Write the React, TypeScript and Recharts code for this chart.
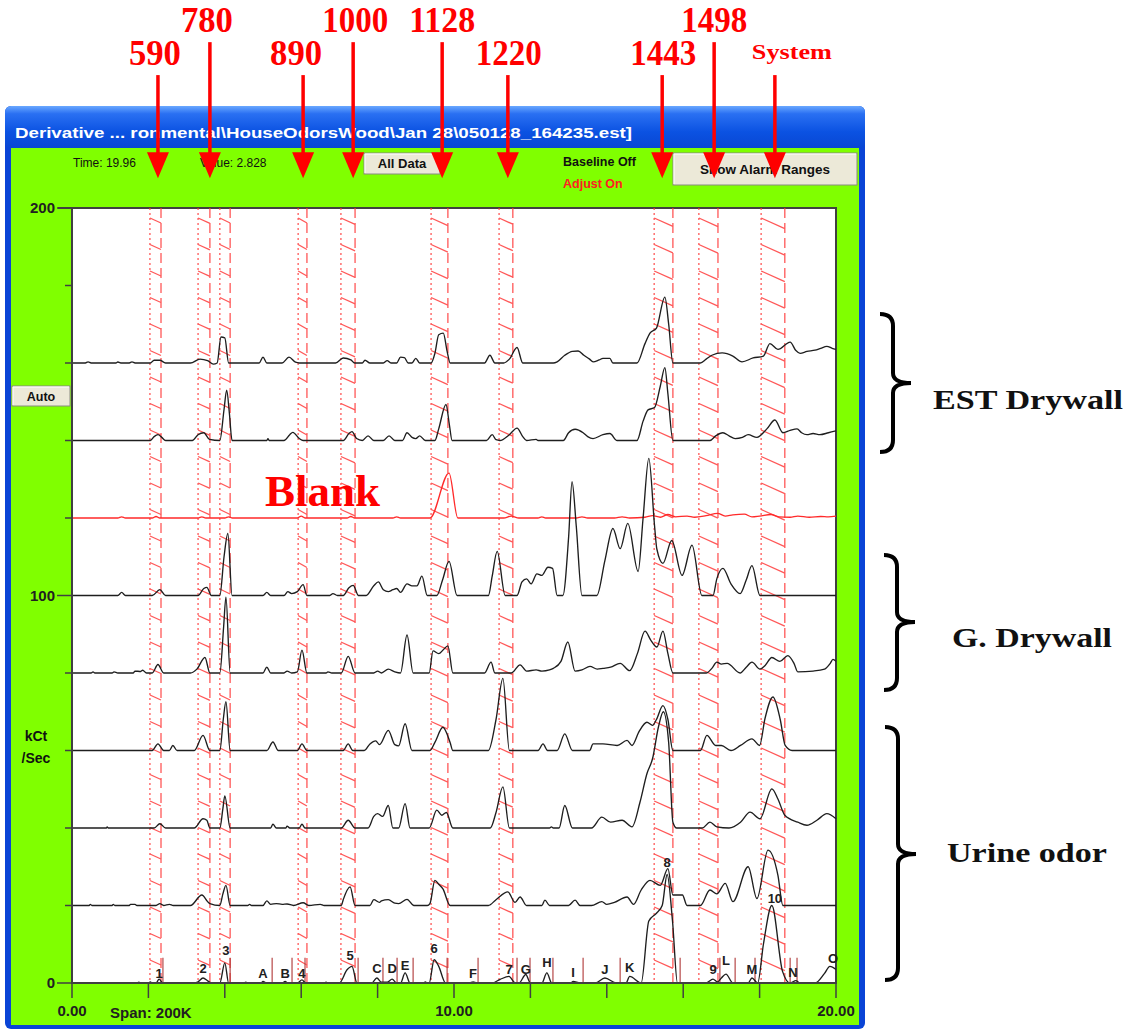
import React from 'react';
import { ComposedChart, Line, XAxis, YAxis, ReferenceArea, ReferenceLine, Scatter } from 'recharts';

const SANS = '"Liberation Sans", Arial, sans-serif';
const SERIF = '"Liberation Serif", "Times New Roman", serif';

// ---------- data ----------
const traceNames = ['EST Drywall A', 'EST Drywall B', 'Blank', 'G. Drywall A', 'G. Drywall B', 'Urine A', 'Urine B', 'Urine C', 'Urine D'];
const baselines = [160, 140, 120, 100, 80, 60, 40, 20, 0];

const estA: number[][] = [[0,0],[0.35,0],[0.42,0.3],[0.5,0],[1.15,0],[1.2,0.25],[1.3,0],[1.5,0],[1.57,0.3],[1.65,0],[2.05,0],[2.15,0.7],[2.3,0.7],[2.45,0],[3.1,0],[3.35,1.0],[3.55,0.6],[3.7,-0.3],[3.8,0],[3.9,6.7],[4.0,6.5],[4.1,0],[4.9,0],[5.0,1.5],[5.1,0],[5.5,0],[5.68,1.5],[5.85,0.2],[5.95,0],[6.9,0],[7.1,1.3],[7.3,0.8],[7.4,0],[7.6,0],[7.67,0.7],[7.8,0],[8.15,0],[8.25,0.6],[8.35,0],[8.5,0],[8.6,1.5],[8.7,1.4],[8.8,0],[8.9,0],[9.0,1.2],[9.1,0],[9.4,0],[9.5,2.5],[9.6,7.3],[9.72,7.7],[9.82,3],[9.9,0],[10.8,0],[10.94,2],[11.07,0],[11.3,0],[11.45,1],[11.65,4],[11.8,0],[12.6,0],[12.7,0.3],[12.9,2],[13.1,3],[13.25,3.1],[13.4,2],[13.55,1],[13.64,0.3],[13.8,0.8],[13.9,1.2],[14.08,1.2],[14.16,0],[14.79,0],[15.0,5],[15.13,7.7],[15.3,9],[15.52,17],[15.62,10],[15.73,0],[16.45,0],[16.6,1],[16.75,2],[17.02,2.6],[17.3,1.8],[17.54,0.3],[17.83,1.3],[18.1,1.8],[18.27,5],[18.48,3.5],[18.8,5.4],[18.95,3.2],[19.06,2.5],[19.24,3],[19.45,3.3],[19.6,3.8],[19.76,4.3],[19.9,3.8],[20,3.5]];
const estB: number[][] = [[0,0],[2.05,0],[2.15,1],[2.25,1.5],[2.35,0.8],[2.45,0],[3.15,0],[3.3,1.5],[3.45,2],[3.6,0.3],[3.87,0],[3.98,8],[4.05,13],[4.12,7],[4.19,0],[5.1,0],[5.13,0.5],[5.16,0],[5.55,0],[5.7,1.5],[5.78,2.1],[5.95,0.5],[6.05,0],[7.1,0],[7.25,1.8],[7.33,2.3],[7.45,0.5],[7.6,0],[7.75,1.2],[7.9,0],[8.15,0],[8.3,1.2],[8.45,0],[8.65,0],[8.77,2],[8.9,0.8],[9.0,0.5],[9.1,1.2],[9.25,0],[9.5,0],[9.6,3],[9.79,9.3],[9.88,4],[9.95,0],[10.85,0],[11.0,1.5],[11.1,0.2],[11.2,0],[11.45,1.5],[11.65,3.2],[11.8,1],[11.9,0],[12.15,0.3],[12.2,0],[12.86,0],[13.0,2],[13.17,2.9],[13.38,2],[13.5,1],[13.64,0.5],[13.9,1.5],[14.08,1.8],[14.27,0],[14.79,0],[14.95,5],[15.08,7.9],[15.25,8.5],[15.4,14],[15.52,18.8],[15.6,12],[15.73,0],[16.7,0],[16.85,1.2],[17.04,2],[17.2,1.2],[17.36,0.5],[17.55,0.8],[17.7,1.5],[17.93,0.8],[18.19,3],[18.4,5.3],[18.61,2],[18.8,2.6],[18.98,3],[19.1,2],[19.24,1.5],[19.4,1.8],[19.58,1.5],[19.8,2],[20,2.5]];
const blank: number[][] = [[0,0],[1.2,0],[1.3,0.3],[1.4,0],[2.1,0],[2.2,0.4],[2.3,0],[3.3,0],[3.4,0.3],[3.5,0],[4.0,0],[4.1,0.3],[4.2,0],[5.9,0],[6.0,0.5],[6.1,0],[7.2,0],[7.3,0.4],[7.4,0],[8.4,0],[8.5,0.3],[8.6,0],[9.37,0],[9.87,11.6],[10.1,0],[11.3,0],[11.5,0.5],[11.7,0],[12.2,0],[12.3,0.3],[12.4,0],[13.2,0],[13.35,0.3],[13.5,0],[14.2,0],[14.4,0.3],[14.6,0],[15.0,0.2],[15.2,0.6],[15.4,0.2],[15.6,0.9],[15.8,0.3],[16.1,0.5],[16.3,0.2],[16.6,0.6],[16.9,1.2],[17.1,0.5],[17.3,0.8],[17.6,1.0],[17.8,0.3],[18.0,0.5],[18.3,0.9],[18.5,0.3],[18.8,0.2],[19.0,0.5],[19.3,0.2],[19.6,0.4],[19.8,0.3],[20,0.5]];
const gA: number[][] = [[0,0],[1.2,0],[1.3,0.8],[1.4,0],[2.1,0],[2.3,1.5],[2.45,0],[3.3,0],[3.45,1.8],[3.53,2.1],[3.65,0],[3.87,0],[3.98,10],[4.08,16],[4.19,0],[5.0,0],[5.1,0.8],[5.2,0],[5.55,0],[5.65,1],[5.75,0.5],[5.9,1],[6.05,2.8],[6.15,0],[6.75,0],[6.83,0.5],[6.95,0],[7.1,0],[7.25,2],[7.36,2.6],[7.5,0],[7.7,0],[7.9,2.5],[8.02,3.5],[8.15,1.5],[8.28,1],[8.4,1.5],[8.5,1.8],[8.6,0.8],[8.77,3],[8.9,2.5],[9.03,2.5],[9.16,5],[9.3,0],[9.55,0],[9.7,4],[9.87,8.8],[10.08,0],[10.9,0],[11.0,5],[11.13,11.4],[11.34,0],[11.65,0],[11.78,3.5],[11.9,4.3],[12.02,3.0],[12.17,5.6],[12.3,5.2],[12.46,7.3],[12.58,7],[12.7,0],[12.85,0],[13.0,15],[13.09,29.4],[13.2,18],[13.35,0],[13.74,0],[13.95,9],[14.16,17.3],[14.35,12.1],[14.55,18.6],[14.82,6.2],[14.95,20],[15.1,35.4],[15.25,18],[15.31,12],[15.47,8.3],[15.7,14.2],[15.97,5.2],[16.23,13],[16.49,0],[16.78,0],[16.88,4.3],[17.04,7],[17.25,3],[17.49,0.5],[17.65,4],[17.8,7.7],[18.01,0],[20,0]];
const gB: number[][] = [[0,0],[0.5,0],[0.55,0.3],[0.6,0],[1.05,0],[1.1,0.3],[1.2,0],[1.6,0],[1.65,0.5],[1.8,0.4],[1.85,0.7],[1.95,0],[2.1,0],[2.25,2.2],[2.4,0],[3.1,0],[3.27,1],[3.48,4],[3.61,0],[3.87,0],[3.97,12],[4.03,19.6],[4.14,0],[5.0,0],[5.1,1.5],[5.2,0],[5.55,0],[5.63,0.5],[5.75,0],[5.9,0.3],[6.02,5.9],[6.15,0],[6.65,0],[6.7,0.3],[6.8,0],[7.05,0],[7.23,4.3],[7.41,0],[7.9,0],[8.0,0.5],[8.1,0],[8.28,1],[8.45,0.3],[8.6,0],[8.77,9.8],[8.93,0],[9.35,0],[9.45,5.7],[9.6,5],[9.72,6],[9.84,7],[9.97,0],[10.8,0],[10.97,2.8],[11.07,0],[11.5,0],[11.73,2.1],[11.9,0.5],[12.15,0.8],[12.3,0.5],[12.5,0.8],[12.6,1.2],[12.8,3],[12.98,8],[13.17,0.5],[13.35,0.8],[13.56,1.7],[13.75,1],[13.9,1.2],[14.1,1.5],[14.35,2.5],[14.6,0.6],[14.8,5],[15.0,10.8],[15.15,8.5],[15.31,6.7],[15.47,10.8],[15.6,5],[15.73,0],[16.6,0],[16.75,1.2],[16.88,2.8],[17.0,2.3],[17.15,2.5],[17.49,0],[17.65,1.5],[17.8,2.8],[18.01,1],[18.15,2],[18.32,4],[18.53,3],[18.74,4.5],[18.9,2.5],[19.0,0.3],[19.4,0.5],[19.7,1],[19.85,2.5],[19.92,3.5],[20,3]];
const uA: number[][] = [[0,0],[2.1,0],[2.25,1.7],[2.4,0],[2.55,0],[2.64,1.3],[2.75,0],[3.2,0],[3.43,3.9],[3.61,0],[3.87,0],[3.96,8],[4.03,12.6],[4.14,0],[5.1,0],[5.26,2.2],[5.4,0],[5.9,0],[6.02,1.7],[6.15,0],[7.1,0],[7.23,1.7],[7.35,0],[7.65,0],[7.8,1.7],[7.95,2.5],[8.05,1.5],[8.28,5.2],[8.45,1.5],[8.55,1.2],[8.72,6.9],[8.9,0],[9.37,0],[9.5,2.1],[9.71,6],[9.9,2],[9.97,0],[10.9,0],[11.1,8],[11.28,18.6],[11.45,0],[12.2,0],[12.33,1.7],[12.45,0],[12.7,0],[12.9,4.3],[13.1,0],[13.55,0],[13.64,1.7],[13.9,1.7],[14.27,1.3],[14.53,2.6],[14.66,1.3],[14.85,5],[15.05,7.3],[15.2,6.5],[15.3,8],[15.47,11.6],[15.6,8],[15.73,0],[16.45,0],[16.62,3.9],[16.85,1.3],[17.0,1.3],[17.25,0],[17.5,1.3],[17.8,3],[18.0,1.3],[18.14,8.2],[18.35,13.8],[18.54,8],[18.67,1.3],[18.85,0],[20,0]];
const uB: number[][] = [[0,0],[0.9,0],[0.92,0.3],[0.95,0],[2.15,0],[2.3,1.1],[2.45,0],[3.2,0],[3.43,2.4],[3.53,2],[3.61,0],[3.87,0],[3.95,5],[4.0,8.3],[4.14,0],[5.2,0],[5.26,1],[5.35,0],[5.6,0],[5.63,0.5],[5.7,0],[5.95,0],[6.02,1],[6.1,0],[7.05,0],[7.23,2],[7.41,0],[7.75,0],[7.9,3],[8.0,3.7],[8.13,3],[8.28,5.8],[8.4,0],[8.55,0],[8.72,6.3],[8.85,0],[9.35,0],[9.55,4.6],[9.68,3.3],[9.8,4],[9.97,0],[10.95,0],[11.1,4],[11.28,10.6],[11.45,0],[12.5,0],[12.55,0.3],[12.6,0],[12.75,0],[12.9,5.8],[13.1,0],[13.6,0],[13.87,2.8],[14.1,1.5],[14.4,2],[14.66,0.3],[14.87,6.7],[15.05,14],[15.2,18],[15.35,26],[15.48,30],[15.62,22],[15.73,1.5],[15.83,0],[16.5,0],[16.7,1.5],[16.88,0.3],[17.2,0],[17.5,1.5],[17.75,4.1],[18.01,2.4],[18.32,10.1],[18.48,7.5],[18.66,3.3],[19.0,1.5],[19.24,0.7],[19.5,2],[19.76,3.7],[20,2.4]];
const uC: number[][] = [[0,0],[0.45,0],[0.48,0.3],[0.52,0],[1.05,0],[1.08,0.3],[1.12,0],[1.5,0],[1.53,0.3],[1.65,0.3],[1.7,0],[2.2,0],[2.3,0.5],[2.4,0],[2.55,0.3],[2.65,0],[3.1,0],[3.4,2.7],[3.55,1],[3.61,0.5],[3.87,0],[3.95,3],[4.03,5.2],[4.14,0],[4.6,0],[4.65,0.3],[4.7,0],[5.0,0],[5.1,1.2],[5.2,0.3],[5.35,0.5],[5.5,0.3],[5.63,0.4],[5.8,0],[6.05,0.7],[6.2,0],[6.5,0.3],[6.6,0],[7.05,0],[7.1,1.5],[7.28,4.8],[7.41,0],[7.8,0],[7.9,1.5],[8.05,0.8],[8.1,1.2],[8.28,1.5],[8.45,0.6],[8.55,0.5],[8.77,1.6],[8.95,0],[9.3,0],[9.37,0.5],[9.5,6.5],[9.6,5.5],[9.71,4.3],[9.9,0],[10.9,0],[11.1,1.5],[11.41,3.5],[11.6,0.8],[11.73,2.2],[11.9,0],[12.3,0],[12.38,1.4],[12.5,0],[13.0,0],[13.17,1.4],[13.3,0],[13.6,0],[13.87,1],[14.0,0.3],[14.2,0.8],[14.53,2.2],[14.7,0.3],[14.9,4],[15.13,6.5],[15.4,5.2],[15.6,9.5],[15.73,2.7],[15.98,2.7],[16.1,0],[16.45,0],[16.7,4],[16.88,3],[17.1,5.7],[17.3,1],[17.7,10],[17.93,1.8],[18.22,14.3],[18.48,7.8],[18.61,0],[20,0]];
const uD: number[][] = [[0,0],[1.7,0],[1.75,0.2],[1.8,0],[2.0,0],[2.05,0.3],[2.1,0],[2.2,0],[2.28,1],[2.38,0],[3.2,0],[3.3,0.3],[3.43,1.3],[3.56,0.5],[3.65,0],[3.87,0],[4.0,5.2],[4.1,0],[4.5,0],[4.55,0.2],[4.6,0],[4.95,0],[5.0,0.4],[5.1,0],[5.5,0],[5.58,0.4],[5.65,0],[5.9,0],[6.02,0.8],[6.12,0],[6.6,0],[6.65,0.2],[6.7,0],[7.0,0],[7.2,3.4],[7.33,4.3],[7.46,0],[7.85,0],[7.98,1.3],[8.1,0.2],[8.25,0.2],[8.38,1],[8.5,0],[8.6,0],[8.72,2.6],[8.85,0],[9.2,0],[9.25,0.3],[9.3,0],[9.35,0],[9.48,6],[9.6,4.3],[9.78,0],[10.4,0],[10.5,0.3],[10.6,0],[11.0,0],[11.2,0.9],[11.44,1.7],[11.6,0],[11.7,0],[11.88,2.2],[12.0,0],[12.3,0],[12.43,2.6],[12.56,0],[13.05,0],[13.12,0.4],[13.3,0],[13.7,0],[13.95,1.3],[14.25,0],[14.5,0],[14.6,1.7],[14.9,0],[15.1,16],[15.3,18],[15.45,20],[15.58,28],[15.72,16],[15.85,0],[16.6,0],[16.78,1],[16.9,0.3],[17.0,1.3],[17.12,2.3],[17.3,0],[17.7,0],[17.8,1.3],[17.95,0],[18.1,10],[18.32,20],[18.6,3],[18.8,0],[18.95,0.6],[19.05,0],[19.45,0],[19.7,2.5],[19.84,4.3],[20,3.5]];

const traces = [estA, estB, blank, gA, gB, uA, uB, uC, uD];

// alarm windows (minutes)
const bandStarts = [2.04, 3.30, 3.87, 5.92, 7.04, 9.40, 11.18, 15.24, 16.41, 18.04];
const bandEnds = [2.33, 3.61, 4.14, 6.15, 7.41, 9.84, 11.54, 15.73, 16.91, 18.66];

// alarm arrows
const arrowLabels = ['590', '780', '890', '1000', '1128', '1220', '1443', '1498', 'System'];
const arrowTimes = [2.25, 3.61, 6.05, 7.36, 9.69, 11.41, 15.45, 16.81, 18.4];

// peak labels on bottom trace
const peakLabels = ['1','2','3','A','B','4','5','C','D','E','6','F','7','G','H','I','J','K','8','9','L','M','10','N','O'];
const peakLabelTimes = [2.28,3.43,4.03,5.0,5.58,6.02,7.28,7.98,8.38,8.72,9.48,10.5,11.44,11.88,12.43,13.12,13.95,14.6,15.58,16.78,17.12,17.8,18.4,18.87,19.92];
const peakLabelHeights = [1.3,2.6,7.2,1.3,1.3,1.3,5.9,2.6,2.6,3.4,7.7,1.3,2.3,2.3,4.1,1.5,2.3,2.8,30,2.3,4.6,2.3,20.6,1.5,5.2];
const peakMarkerTimes = [2.38, 4.14, 5.24, 5.76, 6.1, 7.49, 8.14, 8.51, 8.93, 9.82, 10.63, 11.65, 11.99, 12.59, 13.38, 14.35, 15.92, 16.96, 17.36, 17.88, 18.8, 18.98];

const xTicks = [0, 2, 4, 6, 8, 10, 12, 14, 16, 18, 20];
const xLabelValues = [0, 10, 20];
const yTicks = [0, 20, 40, 60, 80, 100, 120, 140, 160, 180, 200];
const yLabelValues = [0, 100, 200];

// ---------- derived tables ----------
const seriesData = traces.map((tr, i) => tr.map(([t, h]) => ({ t, v: baselines[i] + h })));
const peakLabelData = peakLabels.map((label, i) => ({ t: peakLabelTimes[i], v: baselines[8] + peakLabelHeights[i], label }));

// style config for arrows (layout only)
const arrowRaised = [false, true, false, true, true, false, false, true, false];
const arrowLabelDx = [-3, -3, -7, 2, 0, 1, 1, 0, 17];
const ARROW_TOP_LOW = 234.3;
const ARROW_TOP_HIGH = 242.8;
const ARROW_TIP = 207.7;

const BandShape = (p: any) => {
  const { x, y, width, height } = p;
  const hatches = [];
  const drop = Math.max(5, width * 0.45);
  for (let yy = y + 10, k = 0; yy < y + height - 6; yy += 26.5, k++) {
    hatches.push(<line key={k} x1={x} y1={yy} x2={x + width} y2={yy + drop} />);
  }
  return (
    <g stroke="#ff3b3b" strokeWidth={1.3} fill="none" opacity={0.85}>
      <line x1={x} y1={y} x2={x} y2={y + height} strokeDasharray="2 3" />
      <line x1={x + width} y1={y} x2={x + width} y2={y + height} strokeDasharray="10 5" />
      {hatches}
    </g>
  );
};

const makeArrowShape = (i: number) => (p: any) => {
  const { x1, y1, y2 } = p;
  const x = x1;
  const big = arrowLabels[i] !== 'System';
  return (
    <g>
      <line x1={x} y1={y1} x2={x} y2={y2 - 20} stroke="#ff0000" strokeWidth={3.5} />
      <polygon points={`${x - 11},${y2 - 26} ${x + 11},${y2 - 26} ${x},${y2}`} fill="#ff0000" />
      <text x={x + arrowLabelDx[i]} y={y1 - (big ? 10 : 16)} textAnchor="middle" fill="#ff0000"
        fontFamily={SERIF} fontWeight="bold" fontSize={big ? 36 : 22}
        textLength={big ? (arrowLabels[i].length === 3 ? 52 : 66) : 80} lengthAdjust="spacingAndGlyphs">
        {arrowLabels[i]}
      </text>
    </g>
  );
};

const PeakLabelShape = (p: any) => {
  const { cx, cy, payload } = p;
  return (
    <text x={cx} y={cy} textAnchor="middle" fontFamily={SANS} fontWeight="bold" fontSize={13} fill="#202020">
      {payload.label}
    </text>
  );
};

const XTick = (p: any) => {
  const { x, y, payload } = p;
  if (!xLabelValues.includes(payload.value)) return <g />;
  return (
    <text x={x} y={y} dy={16} textAnchor="middle" fontFamily={SANS} fontWeight="bold" fontSize={15} fill="#202020">
      {payload.value.toFixed(2)}
    </text>
  );
};

const YTick = (p: any) => {
  const { x, y, payload } = p;
  const major = yLabelValues.includes(payload.value);
  return (
    <g>
      <line x1={x - (major ? 15 : 7)} y1={y} x2={x} y2={y} stroke="#404040" strokeWidth={1.5} />
      {major && (
        <text x={x - 17} y={y} dy={5} textAnchor="end" fontFamily={SANS} fontWeight="bold" fontSize={15} fill="#202020">
          {payload.value}
        </text>
      )}
    </g>
  );
};

const Brace = ({ sx, y0, y1, ym }: { sx: number; y0: number; y1: number; ym: number }) => (
  <path
    d={`M ${sx - 13} ${y0} Q ${sx} ${y0} ${sx} ${y0 + 12} L ${sx} ${ym - 10} Q ${sx} ${ym} ${sx + 18} ${ym} Q ${sx} ${ym} ${sx} ${ym + 10} L ${sx} ${y1 - 12} Q ${sx} ${y1} ${sx - 13} ${y1}`}
    stroke="#000" strokeWidth={4} fill="none"
  />
);

const Button = ({ x, y, w, h, label, fs }: any) => (
  <g>
    <rect x={x} y={y} width={w} height={h} fill="#ece9d8" stroke="#8a8a80" strokeWidth={1} />
    <line x1={x + 1} y1={y + 1} x2={x + w - 1} y2={y + 1} stroke="#fff" />
    <line x1={x + 1} y1={y + 1} x2={x + 1} y2={y + h - 1} stroke="#fff" />
    <text x={x + w / 2} y={y + h / 2 + fs * 0.36} textAnchor="middle" fontFamily={SANS} fontWeight="bold" fontSize={fs} fill="#111">{label}</text>
  </g>
);

export default function App() {
  return (
    <div style={{ position: 'absolute', left: 0, top: 0, width: 1131, height: 1029, background: '#fff', overflow: 'hidden' }}>
      {/* window background */}
      <svg style={{ position: 'absolute', left: 0, top: 0 }} width={1131} height={1029}>
        <defs>
          <linearGradient id="titleGrad" x1="0" y1="0" x2="0" y2="1">
            <stop offset="0%" stopColor="#6aa8ff" />
            <stop offset="18%" stopColor="#2a70f2" />
            <stop offset="60%" stopColor="#0b52e2" />
            <stop offset="100%" stopColor="#0846d2" />
          </linearGradient>
        </defs>
        <rect x={5} y={106} width={860} height={923} rx={6} fill="#0a44d6" />
        <rect x={5} y={106} width={860} height={43} rx={6} fill="url(#titleGrad)" />
        <rect x={11} y={148} width={848} height={877} fill="#80ff00" />
        <text x={15} y={138} fill="#fff" fontFamily={SANS} fontWeight="bold" fontSize={15} textLength={617} lengthAdjust="spacingAndGlyphs">
          {'Derivative ... ronmental\\HouseOdorsWood\\Jan 28\\050128_164235.est]'}
        </text>
        <text x={73} y={167} fontFamily={SANS} fontSize={12} fill="#111">Time: 19.96</text>
        <text x={200} y={167} fontFamily={SANS} fontSize={12} fill="#111">Value: 2.828</text>
        <Button x={364} y={153} w={76} h={21} label="All Data" fs={13} />
        <text x={563} y={166} fontFamily={SANS} fontWeight="bold" fontSize={12.5} fill="#111">Baseline Off</text>
        <text x={563} y={188} fontFamily={SANS} fontWeight="bold" fontSize={12.5} fill="#ff2020">Adjust On</text>
        <Button x={673} y={153} w={184} h={32} label="Show Alarm Ranges" fs={13.5} />
        <Button x={12} y={386} w={58} h={20} label="Auto" fs={12.5} />
        <rect x={72} y={208} width={764} height={775} fill="#fff" stroke="#404040" strokeWidth={2} />
        <line x1={58} y1={208} x2={72} y2={208} stroke="#404040" strokeWidth={2} />
        <text x={36} y={741} textAnchor="middle" fontFamily={SANS} fontWeight="bold" fontSize={14} fill="#111">kCt</text>
        <text x={36} y={763} textAnchor="middle" fontFamily={SANS} fontWeight="bold" fontSize={14} fill="#111">/Sec</text>
        <text x={110} y={1018} fontFamily={SANS} fontWeight="bold" fontSize={15} fill="#202020">Span: 200K</text>
      </svg>

      {/* chart */}
      <div style={{ position: 'absolute', left: 0, top: 0 }}>
        <ComposedChart width={1131} height={1029} margin={{ top: 208, right: 295, bottom: 0, left: 0 }}>
          <XAxis dataKey="t" type="number" domain={[0, 20]} ticks={xTicks} interval={0} height={46}
            tickSize={15} tickMargin={2} tick={XTick}
            axisLine={{ stroke: '#404040', strokeWidth: 2 }} tickLine={{ stroke: '#404040', strokeWidth: 1.5 }} />
          <YAxis type="number" domain={[0, 200]} ticks={yTicks} interval={0} width={72}
            tickSize={0} tickMargin={0} tickLine={false} tick={YTick}
            axisLine={{ stroke: '#404040', strokeWidth: 2 }} />
          {bandStarts.map((s, i) => (
            <ReferenceArea key={'band' + i} x1={s} x2={bandEnds[i]} y1={0} y2={200} shape={BandShape} ifOverflow="visible" />
          ))}
          {peakMarkerTimes.map((t, i) => (
            <ReferenceLine key={'mk' + i} segment={[{ x: t, y: 0 }, { x: t, y: 6.5 }]} stroke="#b03a3a" strokeWidth={1.4} strokeOpacity={0.8} ifOverflow="visible" />
          ))}
          {seriesData.map((d, i) => (
            <Line key={traceNames[i]} data={d} dataKey="v" name={traceNames[i]} type="monotone" dot={false} activeDot={false}
              stroke={i === 2 ? '#ff2a2a' : '#1e1e1e'} strokeWidth={1.35} isAnimationActive={false} />
          ))}
          <Scatter data={peakLabelData} dataKey="v" shape={PeakLabelShape} isAnimationActive={false} />
          {arrowTimes.map((t, i) => (
            <ReferenceLine key={'ar' + i} segment={[{ x: t, y: arrowRaised[i] ? ARROW_TOP_HIGH : ARROW_TOP_LOW }, { x: t, y: ARROW_TIP }]}
              ifOverflow="visible" shape={makeArrowShape(i)} />
          ))}
        </ComposedChart>
      </div>

      {/* overlay annotations */}
      <svg style={{ position: 'absolute', left: 0, top: 0, pointerEvents: 'none' }} width={1131} height={1029}>
        <text x={265} y={506} fill="#ff0000" fontFamily={SERIF} fontWeight="bold" fontSize={44} textLength={115} lengthAdjust="spacingAndGlyphs">Blank</text>
        <Brace sx={893} y0={314} y1={452} ym={383} />
        <Brace sx={897} y0={555} y1={690} ym={622} />
        <Brace sx={898} y0={727} y1={980} ym={854} />
        <text x={933} y={409} fontFamily={SERIF} fontWeight="bold" fontSize={28} textLength={190} lengthAdjust="spacingAndGlyphs" fill="#111">EST Drywall</text>
        <text x={952} y={647} fontFamily={SERIF} fontWeight="bold" fontSize={28} textLength={160} lengthAdjust="spacingAndGlyphs" fill="#111">G. Drywall</text>
        <text x={947} y={862} fontFamily={SERIF} fontWeight="bold" fontSize={28} textLength={160} lengthAdjust="spacingAndGlyphs" fill="#111">Urine odor</text>
      </svg>
    </div>
  );
}
